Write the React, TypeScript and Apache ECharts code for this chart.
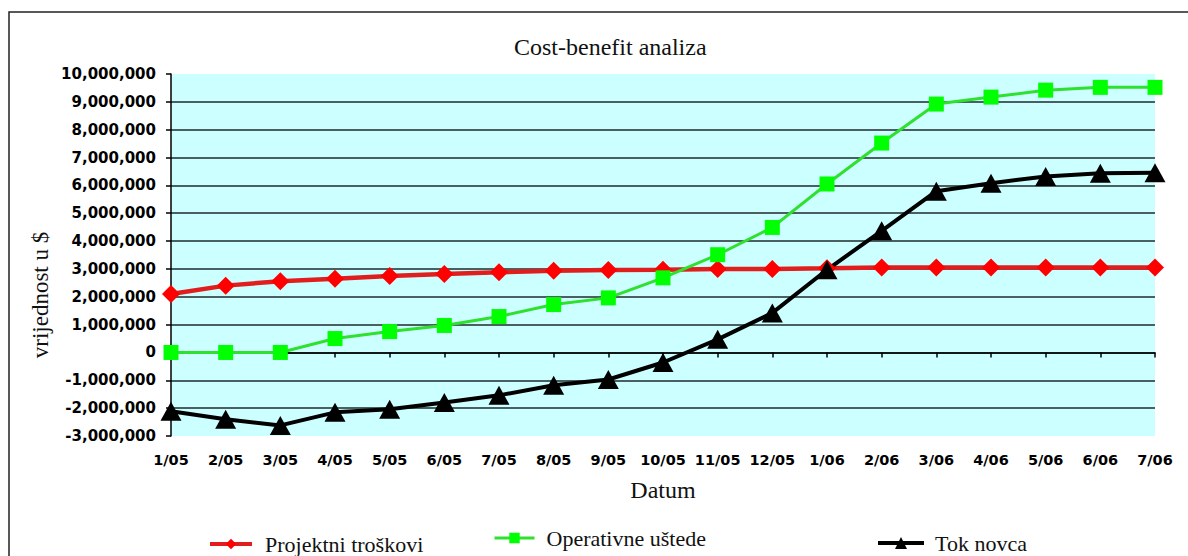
import React, { useEffect, useRef } from 'react';
import * as echarts from 'echarts';

const categories = [
  '1/05', '2/05', '3/05', '4/05', '5/05', '6/05', '7/05', '8/05', '9/05', '10/05',
  '11/05', '12/05', '1/06', '2/06', '3/06', '4/06', '5/06', '6/06', '7/06',
];

const projektniTroskovi = [
  2100000, 2400000, 2560000, 2650000, 2750000, 2820000, 2880000, 2930000, 2960000, 2970000,
  3000000, 3000000, 3020000, 3050000, 3050000, 3050000, 3050000, 3050000, 3050000,
];

const operativneUstede = [
  0, 0, 0, 500000, 750000, 970000, 1290000, 1720000, 1960000, 2680000,
  3510000, 4490000, 6050000, 7520000, 8920000, 9170000, 9420000, 9520000, 9520000,
];

const tokNovca = [
  -2110000, -2400000, -2620000, -2150000, -2040000, -1800000, -1540000, -1180000, -970000, -360000,
  470000, 1420000, 2970000, 4370000, 5790000, 6080000, 6320000, 6440000, 6450000,
];

const yMin = -3000000;
const yMax = 10000000;
const yStep = 1000000;

const seriesNames = ['Projektni troškovi', 'Operativne uštede', 'Tok novca'];

const SERIF = '"Liberation Serif", "Times New Roman", serif';
const SANS = '"DejaVu Sans", "Liberation Sans", Arial, sans-serif';

export default function App() {
  const ref = useRef<HTMLDivElement>(null);

  useEffect(() => {
    if (!ref.current) return;
    const chart = echarts.init(ref.current, null, { renderer: 'svg' });
    const tickCount = Math.round((yMax - yMin) / yStep) + 1;
    const gridColors: string[] = [];
    for (let i = 0; i < tickCount; i++) {
      gridColors.push(i === 0 || i === tickCount - 1 ? 'rgba(0,0,0,0)' : '#1f2b2b');
    }
    const legendText = (pad: number[]) => ({
      fontFamily: SERIF,
      fontSize: 22,
      color: '#111',
      padding: pad,
    });
    chart.setOption({
      animation: false,
      backgroundColor: '#ffffff',
      title: {
        text: 'Cost-benefit analiza',
        left: 509,
        top: 30,
        textStyle: { fontFamily: SERIF, fontSize: 24, fontWeight: 'normal', color: '#111' },
      },
      grid: {
        left: 171,
        right: 33,
        top: 74,
        bottom: 120,
        show: true,
        backgroundColor: '#ccffff',
        borderWidth: 0,
      },
      legend: [
        {
          data: [seriesNames[0]],
          left: 203,
          top: 528,
          itemWidth: 42,
          itemHeight: 13,
          lineStyle: { width: 4 },
          textStyle: legendText([0, 0, 0, 8]),
        },
        {
          data: [seriesNames[1]],
          left: 488,
          top: 522,
          itemWidth: 40,
          itemHeight: 13,
          lineStyle: { width: 3 },
          textStyle: legendText([0, 0, 14, 7]),
        },
        {
          data: [seriesNames[2]],
          left: 871,
          top: 527,
          itemWidth: 46,
          itemHeight: 15,
          lineStyle: { width: 4 },
          textStyle: legendText([6, 0, 0, 6]),
        },
      ],
      graphic: [
        {
          type: 'rect',
          silent: true,
          z: -10,
          shape: { x: 9, y: 12, width: 1400, height: 800 },
          style: { fill: 'rgba(0,0,0,0)', stroke: '#222', lineWidth: 1.5 },
        },
        {
          type: 'text',
          x: 40,
          y: 295,
          rotation: Math.PI / 2,
          style: {
            text: 'vrijednost u $',
            font: '23px ' + SERIF,
            fill: '#111',
            textAlign: 'center',
            textVerticalAlign: 'middle',
            align: 'center',
            verticalAlign: 'middle',
          },
        },
      ],
      xAxis: {
        type: 'category',
        data: categories,
        boundaryGap: false,
        name: 'Datum',
        nameLocation: 'middle',
        nameGap: 42,
        nameTextStyle: { fontFamily: SERIF, fontSize: 24, color: '#111' },
        axisLine: { show: true, lineStyle: { color: '#000', width: 1.5 } },
        axisTick: { show: true, length: 5, lineStyle: { color: '#000', width: 1.5 } },
        axisLabel: {
          interval: 0,
          margin: 16,
          fontFamily: SANS,
          fontWeight: 'bold',
          fontSize: 14.5,
          color: '#000',
        },
        splitLine: { show: false },
      },
      yAxis: {
        type: 'value',
        min: yMin,
        max: yMax,
        interval: yStep,
        axisLine: { show: true, lineStyle: { color: '#000', width: 1.5 } },
        axisTick: { show: true, length: 5, lineStyle: { color: '#000', width: 1.5 } },
        axisLabel: {
          margin: 15,
          fontFamily: SANS,
          fontWeight: 'bold',
          fontSize: 15,
          color: '#000',
          formatter: (v: number) => v.toLocaleString('en-US'),
        },
        splitLine: { show: true, lineStyle: { color: gridColors, width: 1.5 } },
      },
      series: [
        {
          name: seriesNames[0],
          type: 'line',
          data: projektniTroskovi,
          symbol: 'diamond',
          symbolSize: [18, 18],
          color: '#ff0000',
          lineStyle: { color: '#e01e1e', width: 4.5 },
          itemStyle: { color: '#ff0000' },
        },
        {
          name: seriesNames[1],
          type: 'line',
          data: operativneUstede,
          symbol: 'rect',
          symbolSize: [15, 15],
          color: '#00ff00',
          lineStyle: { color: '#2fe02f', width: 3 },
          itemStyle: { color: '#00ff00' },
        },
        {
          name: seriesNames[2],
          type: 'line',
          data: tokNovca,
          symbol: 'triangle',
          symbolSize: [21, 19],
          color: '#000000',
          lineStyle: { color: '#000', width: 4 },
          itemStyle: { color: '#000' },
        },
      ],
    });
    return () => chart.dispose();
  }, []);

  return (
    <div
      ref={ref}
      style={{ position: 'fixed', left: 0, top: 0, width: 1188, height: 556, background: '#fff' }}
    />
  );
}
